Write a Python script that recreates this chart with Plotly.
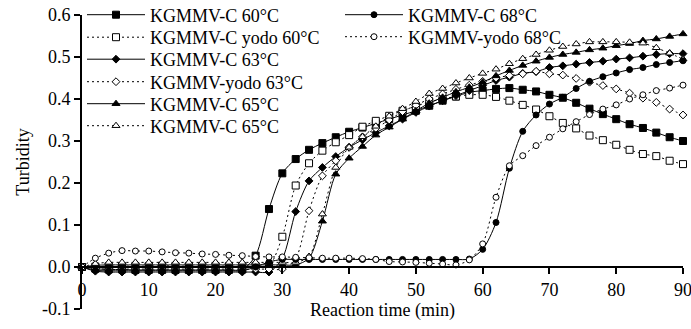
import plotly.graph_objects as go

time_min = list(range(0, 92, 2))

c60 = [0.000, -0.004, -0.006, -0.006, -0.007, -0.007, -0.007, -0.007, -0.007, -0.007, -0.007, -0.007, -0.006,
       0.027, 0.138, 0.223, 0.257, 0.279, 0.295, 0.309, 0.322, 0.332, 0.342, 0.352, 0.362, 0.372, 0.384, 0.396,
       0.406, 0.416, 0.420, 0.424, 0.426, 0.422, 0.418, 0.410, 0.403, 0.391, 0.377, 0.364, 0.352, 0.340, 0.331,
       0.320, 0.309, 0.300]
yodo60 = [0.000, 0.001, 0.002, 0.002, 0.002, 0.002, 0.003, 0.002, 0.002, 0.002, 0.002, 0.002, 0.002, 0.002, 0.003,
          0.072, 0.194, 0.247, 0.277, 0.297, 0.314, 0.334, 0.348, 0.360, 0.372, 0.383, 0.393, 0.400, 0.406, 0.410,
          0.410, 0.405, 0.396, 0.386, 0.375, 0.359, 0.343, 0.330, 0.313, 0.302, 0.291, 0.279, 0.269, 0.264, 0.253,
          0.245]
c63 = [0.000, -0.010, -0.012, -0.012, -0.012, -0.012, -0.012, -0.012, -0.012, -0.012, -0.012, -0.012, -0.012,
       -0.012, -0.012,
       0.020, 0.132, 0.205, 0.237, 0.263, 0.285, 0.303, 0.320, 0.336, 0.352, 0.368, 0.383, 0.396, 0.408, 0.420,
       0.432, 0.444, 0.452, 0.461, 0.465, 0.475, 0.479, 0.483, 0.487, 0.490, 0.495, 0.498, 0.502, 0.506, 0.508,
       0.508]
yodo63 = [0.000, -0.004, -0.005, -0.005, -0.005, -0.005, -0.005, -0.005, -0.005, -0.005, -0.005, -0.005, -0.005,
          -0.005, -0.005, -0.005,
          0.020, 0.134, 0.217, 0.253, 0.285, 0.310, 0.330, 0.350, 0.370, 0.385, 0.400, 0.412, 0.423, 0.433, 0.442,
          0.450, 0.456, 0.460, 0.466, 0.460, 0.457, 0.449, 0.440, 0.432, 0.424, 0.414, 0.402, 0.392, 0.376, 0.362]
c65 = [0.000, 0.004, 0.005, 0.005, 0.005, 0.005, 0.005, 0.005, 0.005, 0.005, 0.005, 0.005, 0.005, 0.005, 0.005,
       0.005, 0.005,
       0.021, 0.109, 0.221, 0.259, 0.287, 0.314, 0.333, 0.352, 0.372, 0.390, 0.404, 0.417, 0.428, 0.440, 0.455,
       0.468, 0.480, 0.490, 0.499, 0.506, 0.511, 0.517, 0.521, 0.527, 0.532, 0.539, 0.543, 0.549, 0.555]
yodo65 = [0.000, 0.008, 0.011, 0.011, 0.011, 0.011, 0.011, 0.011, 0.011, 0.011, 0.011, 0.011, 0.011, 0.011, 0.011,
          0.011, 0.011,
          0.025, 0.126, 0.237, 0.285, 0.310, 0.335, 0.359, 0.377, 0.394, 0.413, 0.425, 0.438, 0.450, 0.461, 0.471,
          0.484, 0.496, 0.506, 0.516, 0.525, 0.531, 0.536, 0.536, 0.536, 0.535, 0.533, 0.522, 0.509, 0.495]
c68 = [0.000, -0.008, -0.009, -0.009, -0.009, -0.009, -0.009, -0.009, -0.009, -0.009, -0.009, -0.009, -0.009,
       0.000, 0.012, 0.018,
       0.018, 0.018, 0.018, 0.018, 0.018, 0.018, 0.018, 0.018, 0.018, 0.018, 0.018, 0.018, 0.018,
       0.019, 0.042, 0.106, 0.235, 0.323, 0.362, 0.388, 0.404, 0.425, 0.442, 0.453, 0.462, 0.470, 0.475, 0.482,
       0.487, 0.491]
yodo68 = [0.000, 0.021, 0.033, 0.039, 0.038, 0.038, 0.036, 0.034, 0.033, 0.031, 0.030, 0.028, 0.027, 0.025, 0.024,
          0.024, 0.023, 0.022, 0.021, 0.021, 0.021, 0.020, 0.018, 0.013, 0.012, 0.011, 0.009, 0.007, 0.005, 0.017,
          0.055, 0.166, 0.241, 0.265, 0.289, 0.309, 0.329, 0.346, 0.363, 0.376, 0.386, 0.400, 0.410, 0.420, 0.426,
          0.433]

names = ["KGMMV-C 60°C", "KGMMV-C yodo 60°C", "KGMMV-C 63°C", "KGMMV-yodo 63°C",
         "KGMMV-C 65°C", "KGMMV-C 65°C", "KGMMV-C 68°C", "KGMMV-yodo 68°C"]
series = [c60, yodo60, c63, yodo63, c65, yodo65, c68, yodo68]
symbols = ["square", "square", "diamond", "diamond", "triangle-up", "triangle-up", "circle", "circle"]
filled = [True, False, True, False, True, False, True, False]
msizes = [7, 7, 6, 6, 7, 7, 6, 6]

y_ticks = [-0.1, 0.0, 0.1, 0.2, 0.3, 0.4, 0.5, 0.6]
y_tick_text = ["-0.1", "0.0", "0.1", "0.2", "0.3", "0.4", "0.5", "0.6"]
x_ticks = [0, 10, 20, 30, 40, 50, 60, 70, 80, 90]

W, H = 691, 329
ML, MR, MT, MB = 82, 8, 15, 20
PW, PH = W - ML - MR, H - MT - MB

FONT = "Liberation Serif"

# legend entry positions (pixels): line start x, centre y
leg_pos = [(87, 15), (87, 37.5), (87, 59.5), (87, 82), (87, 104), (87, 126), (345, 15), (345, 37)]

fig = go.Figure()
layout_legends = {}
for i, (nm, ys, sym, fl, ms) in enumerate(zip(names, series, symbols, filled, msizes)):
    lname = "legend" if i == 0 else f"legend{i + 1}"
    fig.add_trace(go.Scatter(
        x=time_min, y=ys, name=nm, mode="lines+markers",
        line=dict(color="black", width=1, dash="solid" if fl else "2px,3px", shape="spline", smoothing=0.8),
        marker=dict(symbol=sym, size=ms, color="black" if fl else "white",
                    line=dict(color="black", width=1)),
        cliponaxis=False, legend=lname,
    ))
    px, py = leg_pos[i]
    layout_legends[lname] = dict(
        x=(px - 5 - ML) / PW, y=(H - MB - py) / PH, xanchor="left", yanchor="middle",
        bgcolor="rgba(0,0,0,0)", borderwidth=0, itemwidth=58,
        font=dict(family=FONT, size=18, color="black"),
        tracegroupgap=0,
    )

fig.update_layout(
    width=W, height=H,
    margin=dict(l=ML, r=MR, t=MT, b=MB, autoexpand=False),
    paper_bgcolor="white", plot_bgcolor="white",
    showlegend=True,
    font=dict(family=FONT, size=18, color="black"),
    xaxis=dict(
        range=[0, 90], tickvals=x_ticks, ticktext=[str(v) for v in x_ticks],
        anchor="free", position=1 / 7,
        showline=True, linecolor="black", linewidth=2,
        ticks="outside", ticklen=6, tickwidth=2, tickcolor="black",
        showgrid=False, zeroline=False, ticklabeloverflow="allow",
        tickfont=dict(family=FONT, size=18, color="black"),
        title=dict(text="Reaction time (min)", font=dict(family=FONT, size=18, color="black"), standoff=2),
        automargin=False,
    ),
    yaxis=dict(
        range=[-0.1, 0.6], tickvals=y_ticks, ticktext=y_tick_text,
        showline=True, linecolor="black", linewidth=2,
        ticks="outside", ticklen=6, tickwidth=2, tickcolor="black",
        showgrid=False, zeroline=False,
        tickfont=dict(family=FONT, size=18, color="black"),
        title=dict(text="Turbidity", font=dict(family=FONT, size=18, color="black"), standoff=8),
        automargin=False,
    ),
    **layout_legends,
)

fig.write_html("out.html")
